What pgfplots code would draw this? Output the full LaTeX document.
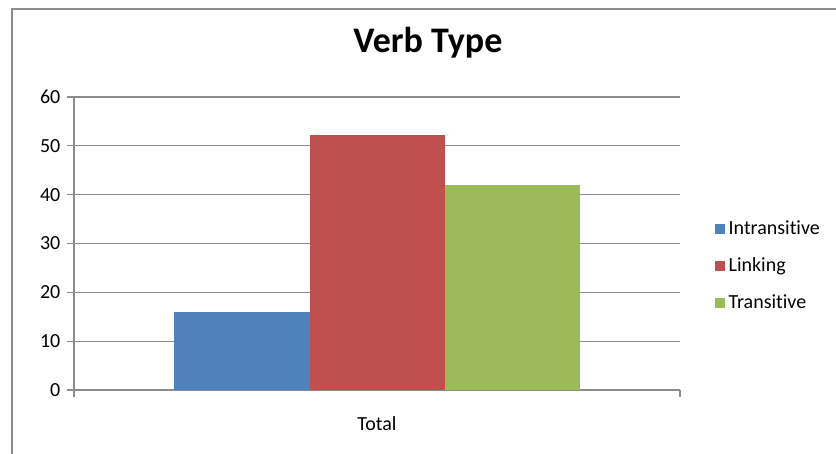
\documentclass[border=0pt]{standalone}
\usepackage{fontspec}
\setmainfont{Carlito}[Ligatures={NoCommon}]
\usepackage{pgfplots}
\pgfplotsset{compat=1.18}
\definecolor{cblue}{HTML}{4F81BD}
\definecolor{cred}{HTML}{C0504D}
\definecolor{cgreen}{HTML}{9BBB59}
\definecolor{gridgray}{HTML}{8C8C8C}
\begin{document}
\begin{tikzpicture}
\useasboundingbox (-74pt,-63pt) rectangle (762pt,390pt);
\draw[gridgray, line width=1.2pt] (-62pt,-70pt) -- (-62pt,381pt) -- (770pt,381pt);
\begin{axis}[
  at={(0pt,0pt)}, anchor=south west,
  scale only axis, width=606pt, height=293pt,
  xmin=0, xmax=1, ymin=0, ymax=60,
  ybar=0pt, bar width=135pt,
  axis x line*=bottom, axis y line*=left,
  axis line style={-, draw=gridgray, line width=1.3pt},
  ytick={0,10,...,60},
  ymajorgrids, grid style={gridgray, line width=1.3pt},
  tick align=outside,
  major tick length=6.5pt,
  tick style={gridgray, line width=1.3pt},
  xtick={0.5}, xticklabels={Total},
  major x tick style={draw=none},
  extra x ticks={0,1}, extra x tick labels={},
  extra x tick style={major x tick style={draw=gridgray, line width=1.3pt}, grid=none},
  /pgf/number format/assume math mode=true,
  ticklabel style={font=\fontsize{20}{24}\selectfont, inner sep=0pt},
  yticklabel style={anchor=east, xshift=-7pt},
  xticklabel style={anchor=base, yshift=-34pt},
  title={\bfseries Verb Type},
  title style={at={(0.584,1.1297)}, anchor=base, font=\fontsize{36}{40}\selectfont, inner sep=0pt},
  legend style={at={(1.053,0.423)}, anchor=west, draw=none, fill=none,
    font=\fontsize{20}{24}\selectfont, row sep=19pt,
    nodes={inner sep=0pt, text height=14pt, text depth=4pt},
    /tikz/every even column/.append style={column sep=0pt}},
  legend cell align=left,
  legend image code/.code={\fill[#1] (0pt,-5pt) rectangle (10pt,5pt);},
]
\addplot[fill=cblue, draw=none] coordinates {(0.5,16)};
\addplot[fill=cred, draw=none] coordinates {(0.5,52.2)};
\addplot[fill=cgreen, draw=none] coordinates {(0.5,42)};
\legend{\,Intransitive,\,Linking,\,Transitive}
\end{axis}
\end{tikzpicture}
\end{document}
